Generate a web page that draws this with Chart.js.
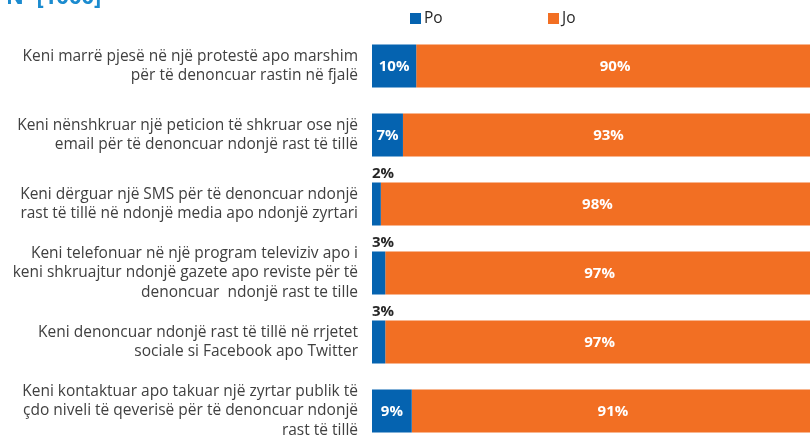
<!DOCTYPE html>
<html>
<head>
<meta charset="utf-8">
<script src="https://cdn.jsdelivr.net/npm/chart.js@4.4.1/dist/chart.umd.min.js"></script>
<style>
  html, body { margin: 0; padding: 0; background: #fff; overflow: hidden; }
  #wrap { position: relative; width: 814px; height: 448px; }
</style>
</head>
<body>
<div id="wrap"><canvas id="chart"></canvas></div>
<script>
const sampleLabel = 'N=[1000]';
const seriesNames = ['Po', 'Jo'];
const categories = [
  ['Keni marrë pjesë në një protestë apo marshim', 'për të denoncuar rastin në fjalë'],
  ['Keni nënshkruar një peticion të shkruar ose një', 'email për të denoncuar ndonjë rast të tillë'],
  ['Keni dërguar një SMS për të denoncuar ndonjë', 'rast të tillë në ndonjë media apo ndonjë zyrtari'],
  ['Keni telefonuar në një program televiziv apo i', 'keni shkruajtur ndonjë gazete apo reviste për të', 'denoncuar  ndonjë rast te tille'],
  ['Keni denoncuar ndonjë rast të tillë në rrjetet', 'sociale si Facebook apo Twitter'],
  ['Keni kontaktuar apo takuar një zyrtar publik të', 'çdo niveli të qeverisë për të denoncuar ndonjë', 'rast të tillë'],
];
const poValues = [10, 7, 2, 3, 3, 9];
const joValues = [90, 93, 98, 97, 97, 91];

const colors = {
  po: '#0563b0',
  jo: '#f26f23',
  title: '#1b8bcf',
  text: '#404040',
  dark: '#262626',
};
const FONT = '"Open Sans", "Liberation Sans", sans-serif';

// percentage labels: inside the segment when it fits, above the bar otherwise
const barLabels = {
  id: 'barLabels',
  afterDatasetsDraw(chart) {
    const ctx = chart.ctx;
    ctx.save();
    ctx.font = 'bold 15px ' + FONT;
    chart.data.datasets.forEach((ds, i) => {
      chart.getDatasetMeta(i).data.forEach((bar, j) => {
        const text = ds.data[j] + '%';
        const left = Math.min(bar.x, bar.base);
        const w = Math.abs(bar.x - bar.base);
        if (w > ctx.measureText(text).width + 4) {
          ctx.fillStyle = '#fff';
          ctx.textAlign = 'center';
          ctx.textBaseline = 'middle';
          ctx.fillText(text, left + w / 2, bar.y + 1);
        } else {
          ctx.fillStyle = colors.dark;
          ctx.textAlign = 'left';
          ctx.textBaseline = 'bottom';
          ctx.fillText(text, left, bar.y - bar.height / 2 - 1);
        }
      });
    });
    ctx.restore();
  },
};

// legend + cut-off sample size title
const header = {
  id: 'header',
  afterDraw(chart) {
    const ctx = chart.ctx;
    const a = chart.chartArea;
    ctx.save();
    ctx.font = 'bold 22px ' + FONT;
    ctx.fillStyle = colors.title;
    ctx.textAlign = 'left';
    ctx.textBaseline = 'alphabetic';
    ctx.fillText(sampleLabel, 6, 4);

    ctx.font = '15.5px ' + FONT;
    ctx.textBaseline = 'middle';
    const starts = [a.left + 38, a.left + 176];
    chart.data.datasets.forEach((ds, i) => {
      const x = starts[i];
      ctx.fillStyle = ds.backgroundColor;
      ctx.fillRect(x, 13, 11, 11);
      ctx.fillStyle = colors.dark;
      ctx.fillText(seriesNames[i], x + 14, 19);
    });
    ctx.restore();
  },
};

new Chart(document.getElementById('chart'), {
  type: 'bar',
  data: {
    labels: categories,
    datasets: [
      { label: seriesNames[0], data: poValues, backgroundColor: colors.po },
      { label: seriesNames[1], data: joValues, backgroundColor: colors.jo },
    ],
  },
  options: {
    indexAxis: 'y',
    responsive: true,
    maintainAspectRatio: false,
    animation: false,
    layout: { padding: { top: 31.5, bottom: 2.5, left: 0, right: 0 } },
    datasets: { bar: { categoryPercentage: 1, barPercentage: 0.62 } },
    plugins: {
      legend: { display: false },
      tooltip: { enabled: false },
    },
    scales: {
      x: {
        stacked: true,
        min: 0,
        max: 100,
        display: false,
      },
      y: {
        stacked: true,
        grid: { display: false, drawTicks: false },
        border: { display: false },
        afterFit: s => {
          s.width = 372;
          s.paddingTop = 0;
          s.paddingBottom = 0;
        },
        ticks: {
          padding: 14,
          color: colors.text,
          font: { family: FONT, size: 15.5, lineHeight: 1.25 },
        },
      },
    },
  },
  plugins: [barLabels, header],
});
</script>
</body>
</html>
